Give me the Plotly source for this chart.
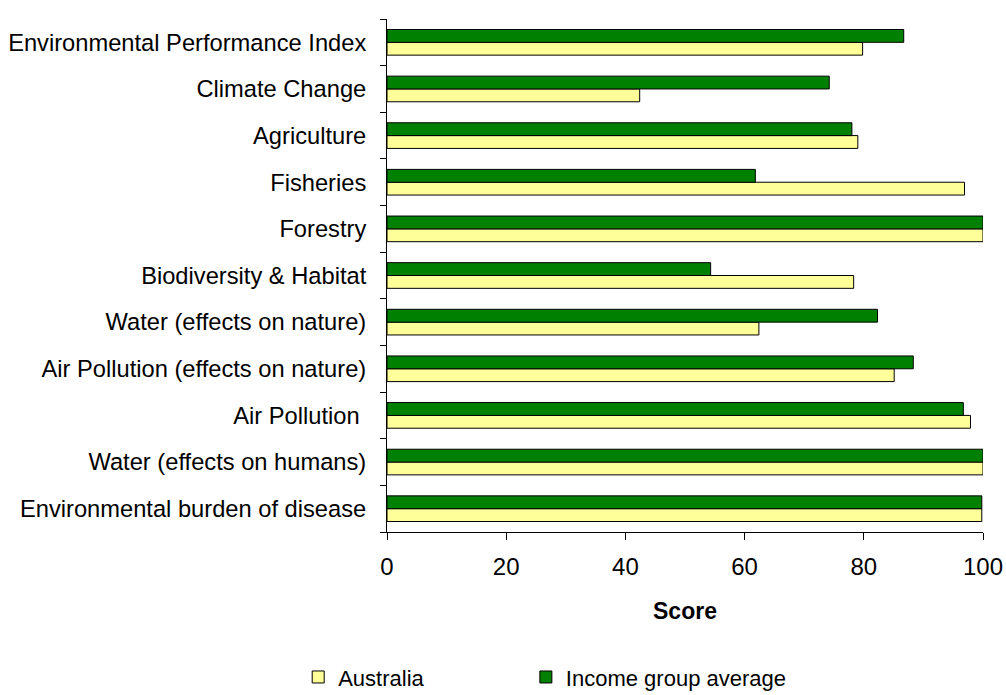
import plotly.graph_objects as go

# Categories listed bottom-to-top (Plotly places the first category at the bottom)
categories = [
    "Environmental burden of disease",
    "Water (effects on humans)",
    "Air Pollution\u00a0",
    "Air Pollution (effects on nature)",
    "Water (effects on nature)",
    "Biodiversity & Habitat",
    "Forestry",
    "Fisheries",
    "Agriculture",
    "Climate Change",
    "Environmental Performance Index",
]

australia = [99.8, 100.0, 97.9, 85.1, 62.4, 78.3, 100.0, 96.9, 79.0, 42.4, 79.8]
income_group_avg = [99.8, 100.0, 96.7, 88.3, 82.3, 54.3, 100.0, 61.8, 78.0, 74.2, 86.7]

x_ticks = [0, 20, 40, 60, 80, 100]

FONT = "Liberation Sans, Arial, sans-serif"

fig = go.Figure()
fig.add_trace(go.Bar(
    y=categories, x=australia, orientation="h", name="Australia",
    marker=dict(color="#FFFF99", line=dict(color="black", width=1)),
    legend="legend",
))
fig.add_trace(go.Bar(
    y=categories, x=income_group_avg, orientation="h", name="Income group average",
    marker=dict(color="#008000", line=dict(color="black", width=1)),
    legend="legend2",
))

legend_common = dict(
    orientation="h", xanchor="left", y=-0.283, yanchor="middle",
    font=dict(size=22), bgcolor="rgba(0,0,0,0)",
)

fig.update_layout(
    width=1006, height=695,
    margin=dict(l=387, r=23, t=19, b=163, pad=0, autoexpand=False),
    paper_bgcolor="white", plot_bgcolor="white",
    barmode="group", bargap=0.45, bargroupgap=0,
    font=dict(family=FONT, size=24, color="black"),
    showlegend=True,
    legend=dict(x=-0.149, **legend_common),
    legend2=dict(x=0.233, **legend_common),
    xaxis=dict(
        range=[0, 100], tickvals=x_ticks, showgrid=False, zeroline=False,
        showline=True, linecolor="black", linewidth=1,
        ticks="outside", ticklen=7, tickcolor="black",
        tickfont=dict(size=24), ticklabelstandoff=6,
        title=dict(text="<b>Score</b>", font=dict(size=23), standoff=24),
    ),
    yaxis=dict(
        showgrid=False, zeroline=False, showline=True, linecolor="black", linewidth=1,
        ticks="outside", ticklen=6, tickcolor="black", tickson="boundaries",
        tickfont=dict(size=23.7), ticklabelstandoff=15,
    ),
)

fig.write_html("out.html")
